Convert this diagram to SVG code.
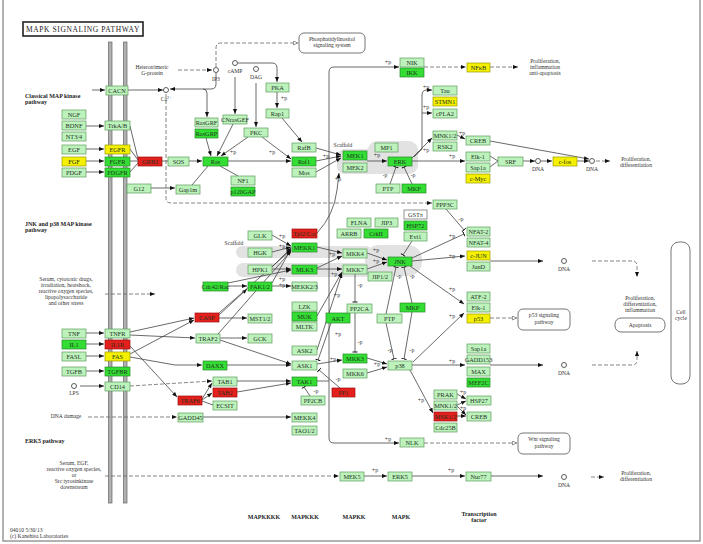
<svg xmlns="http://www.w3.org/2000/svg" width="703" height="544" viewBox="0 0 703 544">
<defs>
<marker id="a" viewBox="0 0 10 10" refX="10" refY="5" markerWidth="5" markerHeight="5" orient="auto" markerUnits="userSpaceOnUse"><path d="M0,1 L10,5 L0,9 z" fill="#111"/></marker>
<marker id="b" viewBox="0 0 4 10" refX="3" refY="5" markerWidth="2" markerHeight="6" orient="auto" markerUnits="userSpaceOnUse"><path d="M3,0 V10" stroke="#111" stroke-width="2"/></marker>
<marker id="o" viewBox="0 0 10 10" refX="10" refY="5" markerWidth="5" markerHeight="5" orient="auto" markerUnits="userSpaceOnUse"><path d="M1,1 L9,5 L1,9 z" fill="#fff" stroke="#555" stroke-width="1.2"/></marker>
<style>
.n rect{fill:#bdf2bd;stroke:#5c9c5c;stroke-width:.7}
.g rect{fill:#33dd33;stroke:#2a8a2a;stroke-width:.7}
.r rect{fill:#e3201b;stroke:#9a1010;stroke-width:.7}
.y rect{fill:#f4f000;stroke:#9a9a00;stroke-width:.7}
.w rect{fill:#fff;stroke:#666;stroke-width:.7}
.nd text{font-family:"Liberation Serif",serif;font-size:6.3px;text-anchor:middle;fill:#223322}
#edges path{fill:none;stroke:#444;stroke-width:.8}
#edges .d{stroke-dasharray:4 2;stroke:#666}
.t{font-family:"Liberation Serif",serif;font-size:5.6px;fill:#333;text-anchor:middle}
.ts{font-family:"Liberation Serif",serif;font-size:5.6px;fill:#333;text-anchor:start}
.p{font-family:"Liberation Serif",serif;font-size:6px;fill:#333;text-anchor:middle}
.bl{font-family:"Liberation Serif",serif;font-size:6px;font-weight:bold;fill:#222}
.bc{font-family:"Liberation Serif",serif;font-size:6px;font-weight:bold;fill:#222;text-anchor:middle}
.c{fill:#fff;stroke:#333;stroke-width:.8}
.box{fill:#fff;stroke:#666;stroke-width:.9}
.sc{fill:#e2e2e2}
</style>
</defs>
<rect width="703" height="544" fill="#fff"/>
<path d="M3,0 V541 H700 V0" fill="none" stroke="#999" stroke-width="1.5"/>
<g id="title"><rect x="23" y="22" width="120" height="14" fill="#fff" stroke="#222" stroke-width="1.6"/><text x="83" y="32" font-family="Liberation Serif,serif" font-size="7.5" text-anchor="middle" letter-spacing=".6" fill="#222">MAPK SIGNALING PATHWAY</text></g>
<g id="membrane"><rect x="108.5" y="42" width="3.5" height="461" fill="#b0b0b0" stroke="#666" stroke-width=".7"/><rect x="123.5" y="42" width="3.5" height="461" fill="#b0b0b0" stroke="#666" stroke-width=".7"/></g>
<g id="scaffolds">
<rect class="sc" x="337" y="149" width="45" height="25" rx="8"/><rect class="sc" x="368" y="141" width="50" height="33" rx="9"/>
<rect class="sc" x="236" y="246" width="136" height="12" rx="6"/><rect class="sc" x="236" y="263" width="136" height="14" rx="7"/><rect class="sc" x="365" y="245" width="57" height="31" rx="14"/>
</g>
<g id="edges">
<path d="M92,90 H105" marker-end="url(#a)"/>
<path d="M128,90 H163" marker-end="url(#a)"/>
<path d="M216,73 V84 Q216,89 211,89 H170" marker-end="url(#a)"/>
<path d="M203,89 Q207,89 207,93 V117" marker-end="url(#a)"/>
<path class="d" d="M178,70 H212" marker-end="url(#a)"/>
<path class="d" d="M216,67 V48 Q216,43 221,43 H298" marker-end="url(#o)"/>
<path d="M238,63 H272 Q277,63 277,68 V82" marker-end="url(#a)"/>
<path d="M235,77 V114" marker-end="url(#a)"/>
<path d="M256,83 V127" marker-end="url(#a)"/>
<path d="M277,92 V108" marker-end="url(#a)"/>
<path d="M282,118 L302,142" marker-end="url(#a)"/>
<path d="M206,138 L211,156" marker-end="url(#a)"/>
<path d="M233,124 L217,156" marker-end="url(#a)"/>
<path d="M248,137 L221,156" marker-end="url(#a)"/>
<path d="M262,137 L291,159" marker-end="url(#a)"/>
<path d="M228,161 H291" marker-end="url(#a)"/>
<path d="M189,161 H202" marker-end="url(#a)"/>
<path d="M162,161 H168"/>
<path d="M130,126 L138,159 M130,149 L138,160 M130,161 H138 M130,172 L138,163"/>
<path d="M86,126 H104" marker-end="url(#a)"/>
<path d="M86,149 H104" marker-end="url(#a)"/>
<path d="M86,161 H104" marker-end="url(#a)"/>
<path d="M86,172 H104" marker-end="url(#a)"/>
<path d="M151,188 H175" marker-end="url(#a)"/>
<path d="M208,166 L192,185"/>
<path d="M220,166 L238,176"/>
<path d="M316,148 L341,155" marker-end="url(#a)"/>
<path d="M316,161 L341,156" marker-end="url(#a)"/>
<path d="M316,172 L341,158" marker-end="url(#a)"/>
<path d="M317,233 Q334,215 337,190 L339,173" marker-end="url(#a)"/>
<path d="M367,161 H387" marker-end="url(#a)"/>
<path d="M412,161 H465" marker-end="url(#a)"/>
<path d="M412,158 L432,138" marker-end="url(#a)"/>
<path d="M414,157 L422,149 V95 Q422,90 427,90 H432" marker-end="url(#a)"/>
<path d="M422,113 H432" marker-end="url(#a)"/>
<path d="M457,135 L465,139" marker-end="url(#a)"/>
<path d="M490,156 L498,161 M490,167 L498,161"/>
<path d="M523,161 H535" marker-end="url(#a)"/>
<path d="M541,161 H552" marker-end="url(#a)"/>
<path d="M577,161 H589" marker-end="url(#a)"/>
<path d="M490,141 L589,159" marker-end="url(#a)"/>
<path class="d" d="M596,161 H610" marker-end="url(#a)"/>
<path d="M390,184 L396,167" marker-end="url(#b)"/>
<path d="M412,184 L404,167" marker-end="url(#b)"/>
<path d="M329,381 V72 Q329,67 334,67 H399" marker-end="url(#a)"/>
<path d="M329,381 V438 Q329,443 334,443 H399" marker-end="url(#a)"/>
<path d="M317,381 H329"/>
<path class="d" d="M424,67 H466" marker-end="url(#a)"/>
<path class="d" d="M490,67 H518" marker-end="url(#a)"/>
<path class="d" d="M166,94 V198 Q166,203 171,203 H432" marker-end="url(#a)"/>
<path d="M446,209 L464,230" marker-end="url(#b)"/>
<path d="M412,258 L464,234" marker-end="url(#b)"/>
<path d="M412,261 L465,256" marker-end="url(#a)"/>
<path d="M410,266 L464,304" marker-end="url(#a)"/>
<path d="M413,362 L464,313" marker-end="url(#a)"/>
<path d="M412,365 H465" marker-end="url(#a)"/>
<path d="M490,261 H543" marker-end="url(#a)"/>
<path class="d" d="M592,261 H632 Q637,261 637,266 V277" marker-end="url(#a)"/>
<path d="M490,365 H543" marker-end="url(#a)"/>
<path class="d" d="M592,365 H632 Q637,365 637,360 V351" marker-end="url(#a)"/>
<path class="d" d="M490,318 H517" marker-end="url(#o)"/>
<path d="M367,253 L387,260" marker-end="url(#a)"/>
<path d="M367,269 L387,262" marker-end="url(#a)"/>
<path d="M317,247 L342,253" marker-end="url(#a)"/>
<path d="M317,268 L342,256" marker-end="url(#a)"/>
<path d="M317,269 H342" marker-end="url(#a)"/>
<path d="M272,235 L291,246" marker-end="url(#a)"/>
<path d="M272,252 L291,247" marker-end="url(#a)"/>
<path d="M272,267 L291,248" marker-end="url(#a)"/>
<path d="M272,269 H291" marker-end="url(#a)"/>
<path d="M272,286 H291" marker-end="url(#a)"/>
<path d="M272,283 L291,249" marker-end="url(#a)"/>
<path d="M228,286 H247" marker-end="url(#a)"/>
<path d="M228,283 L291,270" marker-end="url(#a)"/>
<path d="M219,315 L247,289" marker-end="url(#a)"/>
<path d="M219,318 H247" marker-end="url(#a)"/>
<path d="M219,313 L291,250" marker-end="url(#a)"/>
<path d="M220,338 H247" marker-end="url(#a)"/>
<path d="M218,334 L291,251" marker-end="url(#a)"/>
<path d="M220,340 L291,364" marker-end="url(#a)"/>
<path d="M331,323 L318,360" marker-end="url(#b)"/>
<path d="M317,316 L342,272" marker-end="url(#a)"/>
<path d="M317,350 L342,273" marker-end="url(#a)"/>
<path d="M317,364 L342,360" marker-end="url(#a)"/>
<path d="M340,388 L319,370" marker-end="url(#b)"/>
<path d="M310,396 L304,387" marker-end="url(#b)"/>
<path d="M367,358 L387,364" marker-end="url(#a)"/>
<path d="M367,373 L387,367" marker-end="url(#a)"/>
<path d="M386,314 L396,267" marker-end="url(#b)"/>
<path d="M412,303 L404,267" marker-end="url(#b)"/>
<path d="M386,323 L394,359" marker-end="url(#b)"/>
<path d="M412,312 L404,359" marker-end="url(#b)"/>
<path d="M412,241 L403,255" marker-end="url(#b)"/>
<path d="M355,274 V302" marker-end="url(#b)"/>
<path d="M355,313 V352" marker-end="url(#b)"/>
<path d="M410,370 L433,413" marker-end="url(#a)"/>
<path d="M457,394 L466,399" marker-end="url(#a)"/>
<path d="M457,405 L466,401" marker-end="url(#a)"/>
<path d="M457,406 L466,415" marker-end="url(#a)"/>
<path d="M457,416 H466" marker-end="url(#a)"/>
<path d="M86,333 H104" marker-end="url(#a)"/>
<path d="M86,344 H104" marker-end="url(#a)"/>
<path d="M86,356 H104" marker-end="url(#a)"/>
<path d="M86,371 H104" marker-end="url(#a)"/>
<path d="M80,386 H104" marker-end="url(#a)"/>
<path class="d" d="M105,294 H155" marker-end="url(#a)"/>
<path class="d" d="M88,417 H177" marker-end="url(#a)"/>
<path class="d" d="M130,386 L212,381" marker-end="url(#a)"/>
<path d="M203,417 H291" marker-end="url(#a)"/>
<path d="M227,365 H291" marker-end="url(#a)"/>
<path d="M237,381 H291" marker-end="url(#a)"/>
<path d="M237,392 L291,383" marker-end="url(#a)"/>
<path d="M202,399 L212,383" marker-end="url(#a)"/>
<path d="M202,400 L212,393" marker-end="url(#a)"/>
<path d="M202,401 L213,405"/>
<path d="M130,332 L194,318" marker-end="url(#a)"/>
<path d="M130,335 L195,338" marker-end="url(#a)"/>
<path d="M130,346 L177,397" marker-end="url(#a)"/>
<path d="M130,354 L194,320" marker-end="url(#a)"/>
<path d="M130,357 L175,365 H202" marker-end="url(#a)"/>
<path class="d" d="M105,476 H339" marker-end="url(#a)"/>
<path d="M364,476 H387" marker-end="url(#a)"/>
<path d="M412,476 H465" marker-end="url(#a)"/>
<path d="M491,476 H543" marker-end="url(#a)"/>
<path class="d" d="M591,477 H604" marker-end="url(#a)"/>
<path class="d" d="M424,443 H517" marker-end="url(#o)"/>
</g>
<g id="plabels">
<text class="p" x="284" y="100">+p</text><text class="p" x="233" y="154">+p</text><text class="p" x="272" y="154">+p</text><text class="p" x="326" y="158">+p</text><text class="p" x="338" y="181">+p</text>
<text class="p" x="377" y="157">+p</text><text class="p" x="452" y="158">+p</text><text class="p" x="426" y="152">+p</text><text class="p" x="426" y="89">+p</text><text class="p" x="426" y="109">+p</text><text class="p" x="462" y="135">+p</text>
<text class="p" x="385" y="177">-p</text><text class="p" x="413" y="177">-p</text><text class="p" x="388" y="64">+p</text><text class="p" x="388" y="441">+p</text>
<text class="p" x="461" y="221">-p</text><text class="p" x="452" y="238">+p</text><text class="p" x="452" y="258">+p</text><text class="p" x="452" y="291">+p</text><text class="p" x="452" y="318">+p</text><text class="p" x="452" y="363">+p</text>
<text class="p" x="376" y="252">+p</text><text class="p" x="376" y="263">+p</text><text class="p" x="282" y="238">+p</text><text class="p" x="282" y="248">+p</text><text class="p" x="282" y="281">+p</text><text class="p" x="282" y="287">+p</text>
<text class="p" x="332" y="256">+p</text><text class="p" x="334" y="276">+p</text><text class="p" x="337" y="297">+p</text><text class="p" x="338" y="336">+p</text><text class="p" x="333" y="361">+p</text>
<text class="p" x="399" y="278">-p</text><text class="p" x="412" y="278">-p</text><text class="p" x="390" y="352">-p</text><text class="p" x="412" y="352">-p</text><text class="p" x="360" y="287">-p</text><text class="p" x="360" y="344">-p</text>
<text class="p" x="377" y="366">+p</text><text class="p" x="421" y="402">+p</text><text class="p" x="463" y="394">+p</text><text class="p" x="463" y="410">+p</text><text class="p" x="338" y="381">-p</text><text class="p" x="316" y="393">-p</text>
<text class="p" x="375" y="472">+p</text><text class="p" x="451" y="472">+p</text>
</g>
<g id="compounds">
<g id="c-Ca"><circle class="c" cx="166" cy="90" r="2.5"/><text class="t" x="166" y="101">Ca<tspan font-size="4" dy="-2">2+</tspan></text></g>
<g id="c-IP3"><circle class="c" cx="216" cy="70" r="2.5"/><text class="t" x="216" y="81">IP3</text></g>
<g id="c-cAMP"><circle class="c" cx="235" cy="63" r="2.5"/><text class="t" x="235" y="73">cAMP</text></g>
<g id="c-DAG"><circle class="c" cx="256" cy="69" r="2.5"/><text class="t" x="256" y="79">DAG</text></g>
<g id="c-DNA1"><circle class="c" cx="538" cy="161" r="2.5"/><text class="t" x="538" y="171">DNA</text></g>
<g id="c-DNA2"><circle class="c" cx="592" cy="161" r="2.5"/><text class="t" x="592" y="171">DNA</text></g>
<g id="c-DNA3"><circle class="c" cx="564" cy="261" r="2.5"/><text class="t" x="564" y="271">DNA</text></g>
<g id="c-DNA4"><circle class="c" cx="564" cy="365" r="2.5"/><text class="t" x="564" y="375">DNA</text></g>
<g id="c-DNA5"><circle class="c" cx="564" cy="477" r="2.5"/><text class="t" x="564" y="487">DNA</text></g>
<g id="c-LPS"><circle class="c" cx="74" cy="386" r="2.5"/><text class="t" x="74" y="395">LPS</text></g>
</g>
<g id="maps">
<g id="m-PI"><rect class="box" x="299" y="33" width="66" height="20" rx="5"/><text class="t" x="332" y="41">Phosphatidylinositol</text><text class="t" x="332" y="47">signaling system</text></g>
<g id="m-p53"><rect class="box" x="518" y="309" width="52" height="21" rx="5"/><text class="t" x="544" y="317">p53 signaling</text><text class="t" x="544" y="324">pathway</text></g>
<g id="m-Wnt"><rect class="box" x="518" y="433" width="52" height="21" rx="5"/><text class="t" x="544" y="441">Wnt signaling</text><text class="t" x="544" y="448">pathway</text></g>
<g id="m-Apo"><rect class="box" x="615" y="318" width="50" height="14" rx="6"/><text class="t" x="640" y="327">Apoptosis</text></g>
<g id="m-Cell"><rect class="box" x="671" y="242" width="19" height="142" rx="8"/><text class="t" x="681" y="314">Cell</text><text class="t" x="681" y="320">cycle</text></g>
</g>
<g id="texts">
<text class="t" x="152" y="69">Heterotrimeric</text><text class="t" x="152" y="75">G-protein</text>
<text class="bl" x="25" y="98">Classical MAP kinase</text><text class="bl" x="25" y="104">pathway</text>
<text class="bl" x="25" y="226">JNK and p38 MAP kinase</text><text class="bl" x="25" y="232">pathway</text>
<text class="bl" x="25" y="443">ERK5 pathway</text>
<text class="t" x="66" y="281">Serum, cytotoxic drugs,</text><text class="t" x="66" y="287">irradiation, heatshock,</text><text class="t" x="66" y="293">reactive oxygen species,</text><text class="t" x="66" y="299">lipopolysaccharide</text><text class="t" x="66" y="305">and other stress</text>
<text class="t" x="66" y="418">DNA damage</text>
<text class="t" x="74" y="465">Serum, EGF,</text><text class="t" x="74" y="471">reactive oxygen species,</text><text class="t" x="74" y="477">or</text><text class="t" x="74" y="483">Src tyrosinkinase</text><text class="t" x="74" y="489">downstream</text>
<text class="t" x="545" y="63">Proliferation,</text><text class="t" x="545" y="69">inflammation</text><text class="t" x="545" y="75">anti-apoptosis</text>
<text class="t" x="636" y="161">Proliferation,</text><text class="t" x="636" y="167">differentiation</text>
<text class="t" x="640" y="300">Proliferation,</text><text class="t" x="640" y="306">differentiation,</text><text class="t" x="640" y="312">inflammation</text>
<text class="t" x="636" y="475">Proliferation,</text><text class="t" x="636" y="481">differentiation</text>
<text class="t" x="343" y="147">Scaffold</text><text class="t" x="234" y="245">Scaffold</text>
<text class="bc" x="264" y="519">MAPKKKK</text><text class="bc" x="305" y="519">MAPKKK</text><text class="bc" x="354" y="519">MAPKK</text><text class="bc" x="401" y="519">MAPK</text>
<text class="bc" x="479" y="516">Transcription</text><text class="bc" x="479" y="522">factor</text>
<text class="ts" x="10" y="532">04010 5/30/13</text><text class="ts" x="10" y="538">(c) Kanehisa Laboratories</text>
</g>
<g id="nodes" class="nd">
<g id="CACN" class="n"><rect x="106" y="86" width="22" height="9"/><text x="117" y="93">CACN</text></g>
<g id="NGF" class="n"><rect x="62" y="110" width="24" height="9"/><text x="74" y="117">NGF</text></g>
<g id="BDNF" class="n"><rect x="62" y="121" width="24" height="9"/><text x="74" y="128">BDNF</text></g>
<g id="NT34" class="n"><rect x="62" y="132" width="24" height="9"/><text x="74" y="139">NT3/4</text></g>
<g id="EGF" class="n"><rect x="62" y="145" width="24" height="9"/><text x="74" y="152">EGF</text></g>
<g id="FGF" class="y"><rect x="62" y="157" width="24" height="9"/><text x="74" y="164">FGF</text></g>
<g id="PDGF" class="n"><rect x="62" y="168" width="24" height="9"/><text x="74" y="175">PDGF</text></g>
<g id="TrkAB" class="n"><rect x="105" y="121" width="25" height="9"/><text x="117.5" y="128">TrkA/B</text></g>
<g id="EGFR" class="y"><rect x="105" y="145" width="25" height="9"/><text x="117.5" y="152">EGFR</text></g>
<g id="FGFR" class="g"><rect x="105" y="157" width="25" height="9"/><text x="117.5" y="164">FGFR</text></g>
<g id="PDGFR" class="g"><rect x="105" y="168" width="25" height="9"/><text x="117.5" y="175">PDGFR</text></g>
<g id="GRB2" class="r"><rect x="138" y="157" width="24" height="9"/><text x="150" y="164">GRB2</text></g>
<g id="SOS" class="n"><rect x="168" y="157" width="21" height="9"/><text x="178.5" y="164">SOS</text></g>
<g id="Ras" class="g"><rect x="203" y="157" width="25" height="9"/><text x="215.5" y="164">Ras</text></g>
<g id="G12" class="n"><rect x="127" y="184" width="24" height="9"/><text x="139" y="191">G12</text></g>
<g id="Gap1m" class="n"><rect x="176" y="185" width="24" height="9"/><text x="188" y="192">Gap1m</text></g>
<g id="NF1" class="n"><rect x="231" y="176" width="24" height="9"/><text x="243" y="183">NF1</text></g>
<g id="p120GAP" class="g"><rect x="231" y="187" width="24" height="9"/><text x="243" y="194">p120GAP</text></g>
<g id="RasGRF" class="n"><rect x="195" y="118" width="23" height="9"/><text x="206.5" y="125">RasGRF</text></g>
<g id="RasGRP" class="g"><rect x="195" y="129" width="23" height="9"/><text x="206.5" y="136">RasGRP</text></g>
<g id="CNrasGEF" class="n"><rect x="223" y="115" width="24" height="9"/><text x="235" y="122">CNrasGEF</text></g>
<g id="PKC" class="n"><rect x="244" y="128" width="24" height="9"/><text x="256" y="135">PKC</text></g>
<g id="PKA" class="n"><rect x="266" y="83" width="23" height="9"/><text x="277.5" y="90">PKA</text></g>
<g id="Rap1" class="n"><rect x="266" y="109" width="23" height="9"/><text x="277.5" y="116">Rap1</text></g>
<g id="RafB" class="n"><rect x="292" y="143" width="24" height="9"/><text x="304" y="150">RafB</text></g>
<g id="Raf1" class="g"><rect x="292" y="157" width="24" height="9"/><text x="304" y="164">Raf1</text></g>
<g id="Mos" class="n"><rect x="292" y="168" width="24" height="9"/><text x="304" y="175">Mos</text></g>
<g id="MEK1" class="g"><rect x="343" y="151" width="24" height="9"/><text x="355" y="158">MEK1</text></g>
<g id="MEK2" class="n"><rect x="343" y="163" width="24" height="9"/><text x="355" y="170">MEK2</text></g>
<g id="MP1" class="n"><rect x="375" y="143" width="23" height="9"/><text x="386.5" y="150">MP1</text></g>
<g id="ERK" class="g"><rect x="388" y="157" width="24" height="9"/><text x="400" y="164">ERK</text></g>
<g id="PTP1" class="n"><rect x="376" y="184" width="24" height="9"/><text x="388" y="191">PTP</text></g>
<g id="MKP1" class="g"><rect x="402" y="184" width="24" height="9"/><text x="414" y="191">MKP</text></g>
<g id="NIK" class="n"><rect x="400" y="58" width="24" height="9"/><text x="412" y="65">NIK</text></g>
<g id="IKK" class="g"><rect x="400" y="68" width="24" height="9"/><text x="412" y="75">IKK</text></g>
<g id="NFkB" class="y"><rect x="467" y="63" width="23" height="9"/><text x="478.5" y="70">NFκB</text></g>
<g id="Tau" class="n"><rect x="433" y="86" width="24" height="9"/><text x="445" y="93">Tau</text></g>
<g id="STMN1" class="y"><rect x="433" y="97" width="24" height="9"/><text x="445" y="104">STMN1</text></g>
<g id="cPLA2" class="n"><rect x="433" y="109" width="24" height="9"/><text x="445" y="116">cPLA2</text></g>
<g id="MNK12a" class="n"><rect x="433" y="131" width="24" height="9"/><text x="445" y="138">MNK1/2</text></g>
<g id="RSK2" class="n"><rect x="433" y="142" width="24" height="9"/><text x="445" y="149">RSK2</text></g>
<g id="CREBa" class="n"><rect x="466" y="136" width="24" height="9"/><text x="478" y="143">CREB</text></g>
<g id="Elk1a" class="n"><rect x="466" y="152" width="24" height="9"/><text x="478" y="159">Elk-1</text></g>
<g id="Sap1aa" class="n"><rect x="466" y="163" width="24" height="9"/><text x="478" y="170">Sap1a</text></g>
<g id="cMyc" class="y"><rect x="466" y="174" width="24" height="9"/><text x="478" y="181">c-Myc</text></g>
<g id="SRF" class="n"><rect x="498" y="157" width="25" height="9"/><text x="510.5" y="164">SRF</text></g>
<g id="cfos" class="y"><rect x="553" y="157" width="24" height="9"/><text x="565" y="164">c-fos</text></g>
<g id="PPP3C" class="n"><rect x="433" y="200" width="24" height="9"/><text x="445" y="207">PPP3C</text></g>
<g id="GSTp" class="w"><rect x="404" y="210" width="23" height="9"/><text x="415.5" y="217">GSTπ</text></g>
<g id="HSP72" class="g"><rect x="404" y="221" width="23" height="9"/><text x="415.5" y="228">HSP72</text></g>
<g id="Evi1" class="n"><rect x="404" y="232" width="23" height="9"/><text x="415.5" y="239">Evi1</text></g>
<g id="FLNA" class="n"><rect x="347" y="218" width="24" height="9"/><text x="359" y="225">FLNA</text></g>
<g id="JIP3" class="n"><rect x="375" y="218" width="23" height="9"/><text x="386.5" y="225">JIP3</text></g>
<g id="ARRB" class="n"><rect x="337" y="229" width="24" height="9"/><text x="349" y="236">ARRB</text></g>
<g id="CrkII" class="g"><rect x="364" y="229" width="24" height="9"/><text x="376" y="236">CrkII</text></g>
<g id="NFAT2" class="n"><rect x="467" y="227" width="23" height="9"/><text x="478.5" y="234">NFAT-2</text></g>
<g id="NFAT4" class="n"><rect x="467" y="238" width="23" height="9"/><text x="478.5" y="245">NFAT-4</text></g>
<g id="cJUN" class="y"><rect x="467" y="251" width="23" height="9"/><text x="478.5" y="258">c-JUN</text></g>
<g id="JunD" class="n"><rect x="467" y="262" width="23" height="9"/><text x="478.5" y="269">JunD</text></g>
<g id="GLK" class="n"><rect x="248" y="231" width="24" height="9"/><text x="260" y="238">GLK</text></g>
<g id="HGK" class="n"><rect x="248" y="248" width="24" height="9"/><text x="260" y="255">HGK</text></g>
<g id="HPK1" class="n"><rect x="248" y="265" width="24" height="9"/><text x="260" y="272">HPK1</text></g>
<g id="Tpl2" class="r"><rect x="292" y="229" width="25" height="9"/><text x="304.5" y="236">Tpl2/Cot</text></g>
<g id="MEKK1" class="g"><rect x="292" y="243" width="25" height="9"/><text x="304.5" y="250">MEKK1</text></g>
<g id="MLK3" class="g"><rect x="292" y="265" width="25" height="9"/><text x="304.5" y="272">MLK3</text></g>
<g id="MEKK23" class="n"><rect x="292" y="282" width="25" height="9"/><text x="304.5" y="289">MEKK2/3</text></g>
<g id="Cdc42" class="g"><rect x="203" y="282" width="25" height="9"/><text x="215.5" y="289">Cdc42/Rac</text></g>
<g id="PAK12" class="g"><rect x="248" y="282" width="24" height="9"/><text x="260" y="289">PAK1/2</text></g>
<g id="LZK" class="n"><rect x="292" y="302" width="25" height="9"/><text x="304.5" y="309">LZK</text></g>
<g id="MUK" class="g"><rect x="292" y="312" width="25" height="9"/><text x="304.5" y="319">MUK</text></g>
<g id="MLTK" class="n"><rect x="292" y="322" width="25" height="9"/><text x="304.5" y="329">MLTK</text></g>
<g id="CASP" class="r"><rect x="195" y="313" width="24" height="9"/><text x="207" y="320">CASP</text></g>
<g id="MST12" class="n"><rect x="248" y="314" width="24" height="9"/><text x="260" y="321">MST1/2</text></g>
<g id="TRAF2" class="n"><rect x="196" y="334" width="24" height="9"/><text x="208" y="341">TRAF2</text></g>
<g id="GCK" class="n"><rect x="248" y="334" width="24" height="9"/><text x="260" y="341">GCK</text></g>
<g id="AKT" class="g"><rect x="326" y="313" width="24" height="10"/><text x="338" y="320.5">AKT</text></g>
<g id="ASK2" class="n"><rect x="292" y="346" width="25" height="9"/><text x="304.5" y="353">ASK2</text></g>
<g id="MKK4" class="n"><rect x="343" y="249" width="24" height="9"/><text x="355" y="256">MKK4</text></g>
<g id="MKK7" class="n"><rect x="343" y="265" width="24" height="9"/><text x="355" y="272">MKK7</text></g>
<g id="JNK" class="g"><rect x="388" y="257" width="24" height="9"/><text x="400" y="264">JNK</text></g>
<g id="JIP12" class="n"><rect x="368" y="272" width="24" height="9"/><text x="380" y="279">JIP1/2</text></g>
<g id="MKP2" class="g"><rect x="400" y="303" width="25" height="9"/><text x="412.5" y="310">MKP</text></g>
<g id="PTP2" class="n"><rect x="377" y="314" width="25" height="9"/><text x="389.5" y="321">PTP</text></g>
<g id="PP2CA" class="n"><rect x="347" y="304" width="25" height="9"/><text x="359.5" y="311">PP2CA</text></g>
<g id="MKK3" class="g"><rect x="343" y="354" width="24" height="9"/><text x="355" y="361">MKK3</text></g>
<g id="MKK6" class="n"><rect x="343" y="369" width="24" height="9"/><text x="355" y="376">MKK6</text></g>
<g id="p38" class="n"><rect x="388" y="361" width="24" height="9"/><text x="400" y="368">p38</text></g>
<g id="ATF2" class="n"><rect x="467" y="292" width="23" height="9"/><text x="478.5" y="299">ATF-2</text></g>
<g id="Elk1b" class="n"><rect x="467" y="303" width="23" height="9"/><text x="478.5" y="310">Elk-1</text></g>
<g id="p53" class="y"><rect x="467" y="314" width="23" height="9"/><text x="478.5" y="321">p53</text></g>
<g id="Sap1ab" class="n"><rect x="467" y="344" width="23" height="9"/><text x="478.5" y="351">Sap1a</text></g>
<g id="GADD153" class="n"><rect x="467" y="355" width="23" height="9"/><text x="478.5" y="362">GADD153</text></g>
<g id="MAX" class="n"><rect x="467" y="367" width="23" height="9"/><text x="478.5" y="374">MAX</text></g>
<g id="MEF2C" class="g"><rect x="467" y="378" width="23" height="9"/><text x="478.5" y="385">MEF2C</text></g>
<g id="PRAK" class="n"><rect x="434" y="390" width="23" height="9"/><text x="445.5" y="397">PRAK</text></g>
<g id="MNK12b" class="n"><rect x="434" y="401" width="23" height="9"/><text x="445.5" y="408">MNK1/2</text></g>
<g id="MSK12" class="r"><rect x="434" y="412" width="23" height="9"/><text x="445.5" y="419">MSK1/2</text></g>
<g id="Cdc25B" class="n"><rect x="434" y="423" width="23" height="9"/><text x="445.5" y="430">Cdc25B</text></g>
<g id="HSP27" class="n"><rect x="467" y="396" width="24" height="9"/><text x="479" y="403">HSP27</text></g>
<g id="CREBb" class="n"><rect x="467" y="412" width="24" height="9"/><text x="479" y="419">CREB</text></g>
<g id="NLK" class="n"><rect x="400" y="438" width="24" height="9"/><text x="412" y="445">NLK</text></g>
<g id="TNF" class="n"><rect x="62" y="329" width="24" height="9"/><text x="74" y="336">TNF</text></g>
<g id="IL1" class="g"><rect x="62" y="340" width="24" height="9"/><text x="74" y="347">IL1</text></g>
<g id="FASL" class="n"><rect x="62" y="352" width="24" height="9"/><text x="74" y="359">FASL</text></g>
<g id="TGFB" class="n"><rect x="62" y="367" width="24" height="9"/><text x="74" y="374">TGFB</text></g>
<g id="TNFR" class="n"><rect x="105" y="329" width="25" height="9"/><text x="117.5" y="336">TNFR</text></g>
<g id="IL1R" class="r"><rect x="105" y="340" width="25" height="9"/><text x="117.5" y="347">IL1R</text></g>
<g id="FAS" class="y"><rect x="105" y="352" width="25" height="9"/><text x="117.5" y="359">FAS</text></g>
<g id="TGFBR" class="g"><rect x="105" y="367" width="25" height="9"/><text x="117.5" y="374">TGFBR</text></g>
<g id="CD14" class="n"><rect x="105" y="382" width="25" height="9"/><text x="117.5" y="389">CD14</text></g>
<g id="GADD45" class="n"><rect x="178" y="413" width="25" height="9"/><text x="190.5" y="420">GADD45</text></g>
<g id="DAXX" class="g"><rect x="203" y="361" width="24" height="9"/><text x="215" y="368">DAXX</text></g>
<g id="ASK1" class="n"><rect x="292" y="361" width="25" height="9"/><text x="304.5" y="368">ASK1</text></g>
<g id="TAB1" class="n"><rect x="213" y="377" width="24" height="9"/><text x="225" y="384">TAB1</text></g>
<g id="TAB2" class="r"><rect x="213" y="388" width="24" height="9"/><text x="225" y="395">TAB2</text></g>
<g id="ECSIT" class="n"><rect x="213" y="401" width="24" height="9"/><text x="225" y="408">ECSIT</text></g>
<g id="TRAF6" class="r"><rect x="178" y="396" width="24" height="9"/><text x="190" y="403">TRAF6</text></g>
<g id="TAK1" class="g"><rect x="292" y="377" width="25" height="9"/><text x="304.5" y="384">TAK1</text></g>
<g id="PP2CB" class="n"><rect x="301" y="396" width="24" height="9"/><text x="313" y="403">PP2CB</text></g>
<g id="PP1" class="r"><rect x="332" y="388" width="23" height="9"/><text x="343.5" y="395">PP1</text></g>
<g id="MEKK4" class="n"><rect x="292" y="413" width="25" height="9"/><text x="304.5" y="420">MEKK4</text></g>
<g id="TAO12" class="n"><rect x="292" y="426" width="25" height="9"/><text x="304.5" y="433">TAO1/2</text></g>
<g id="MEK5" class="n"><rect x="340" y="472" width="24" height="9"/><text x="352" y="479">MEK5</text></g>
<g id="ERK5" class="n"><rect x="388" y="472" width="24" height="9"/><text x="400" y="479">ERK5</text></g>
<g id="Nur77" class="n"><rect x="466" y="472" width="25" height="9"/><text x="478.5" y="479">Nur77</text></g>
</g>
</svg>
